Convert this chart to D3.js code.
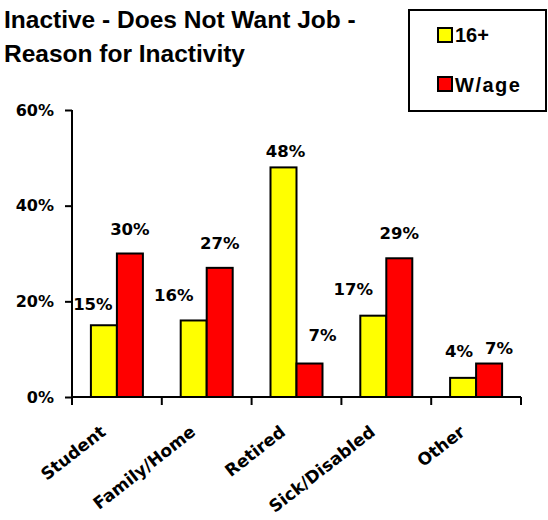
<!DOCTYPE html>
<html>
<head>
<meta charset="utf-8">
<script src="https://cdn.jsdelivr.net/npm/d3@7/dist/d3.min.js"></script>
<style>
  body { margin: 0; background: #fff; }
  svg { display: block; }
</style>
</head>
<body>
<script>
// reasons for inactivity, share of those not wanting a job
var categories = ["Student", "Family/Home", "Retired", "Sick/Disabled", "Other"];
var seriesNames = ["16+", "W/age"];
var values16 = [15, 16, 48, 17, 4];
var valuesWage = [30, 27, 7, 29, 7];
var yTicks = [0, 20, 40, 60];
var colors = ["#ffff00", "#ff0000"];

// hand nudges for the value labels [dx, dy], per series then category
var labelNudge = [
  [[-11, 4], [-20, 0], [2, 9], [-20, -2], [-4, -2]],
  [[0, 0], [0, 0], [13, -4], [0, 0], [10, 9]]
];

var width = 548, height = 520;
var svg = d3.select("body").append("svg").attr("width", width).attr("height", height);

var x = d3.scaleBand().domain(categories).range([72, 521]).padding(0);
var xs = d3.scaleBand().domain(seriesNames).range([0, x.bandwidth()]).paddingInner(0).paddingOuter(0.727);
var y = d3.scaleLinear().domain([0, 60]).range([397, 110]);

var data = categories.map(function(c, i) {
  return { cat: c, vals: [values16[i], valuesWage[i]] };
});

// title
var title = svg.append("text")
  .style("font", "bold 24.5px 'Liberation Sans', Arial, sans-serif")
  .style("fill", "#000");
title.append("tspan").attr("x", 4).attr("y", 28).text("Inactive - Does Not Want Job -");
title.append("tspan").attr("x", 4).attr("y", 62).text("Reason for Inactivity");

// bars
var groups = svg.selectAll(".grp")
  .data(data)
  .enter().append("g")
    .attr("class", "grp")
    .attr("transform", function(d) { return "translate(" + x(d.cat) + ",0)"; });

groups.selectAll("rect")
  .data(function(d, ci) { return d.vals.map(function(v, si) { return { v: v, s: si, c: ci }; }); })
  .enter().append("rect")
    .attr("x", function(d) { return xs(seriesNames[d.s]); })
    .attr("y", function(d) { return y(d.v); })
    .attr("width", xs.bandwidth())
    .attr("height", function(d) { return y(0) - y(d.v); })
    .attr("fill", function(d) { return colors[d.s]; })
    .attr("stroke", "#000")
    .attr("stroke-width", 2);

groups.selectAll(".val")
  .data(function(d, ci) { return d.vals.map(function(v, si) { return { v: v, s: si, c: ci }; }); })
  .enter().append("text")
    .attr("class", "val")
    .attr("x", function(d) { return xs(seriesNames[d.s]) + xs.bandwidth() / 2 + labelNudge[d.s][d.c][0]; })
    .attr("y", function(d) { return y(d.v) - 19 + labelNudge[d.s][d.c][1]; })
    .attr("text-anchor", "middle")
    .style("font", "bold 16.5px 'DejaVu Sans', Verdana, sans-serif")
    .text(function(d) { return d.v + "%"; });

// y axis
var yAxis = svg.append("g")
  .attr("transform", "translate(72,0)")
  .call(d3.axisLeft(y).tickValues(yTicks).tickSize(7).tickPadding(11).tickFormat(function(d) { return d + "%"; }));
yAxis.select(".domain").attr("stroke", "#000").attr("stroke-width", 2).attr("d", "M0,110V397");
yAxis.selectAll(".tick line").attr("stroke", "#000").attr("stroke-width", 2);
yAxis.selectAll(".tick text")
  .style("font", "bold 16px 'DejaVu Sans', Verdana, sans-serif")
  .attr("fill", "#000");

// x axis, ticks on the category boundaries
var xAxis = svg.append("g").attr("transform", "translate(0,397)");
xAxis.append("line")
  .attr("x1", 72).attr("x2", 521)
  .attr("stroke", "#000").attr("stroke-width", 2);
var bounds = categories.map(function(c) { return x(c); }).concat([x.range()[1]]);
xAxis.selectAll(".xt")
  .data(bounds)
  .enter().append("line")
    .attr("class", "xt")
    .attr("x1", function(d) { return d; }).attr("x2", function(d) { return d; })
    .attr("y1", 0).attr("y2", 8)
    .attr("stroke", "#000").attr("stroke-width", 2);

xAxis.selectAll(".cat")
  .data(categories)
  .enter().append("text")
    .attr("class", "cat")
    .attr("text-anchor", "end")
    .attr("transform", function(d) { return "translate(" + (x(d) + x.bandwidth() / 2 - 10) + ",37) rotate(-38)"; })
    .style("font", "bold 17px 'DejaVu Sans', Verdana, sans-serif")
    .text(function(d) { return d; });

// legend
var legend = svg.append("g");
legend.append("rect")
  .attr("x", 409).attr("y", 10).attr("width", 137).attr("height", 101)
  .attr("fill", "#fff").attr("stroke", "#000").attr("stroke-width", 2);
seriesNames.forEach(function(s, i) {
  legend.append("rect")
    .attr("x", 438).attr("y", 28 + i * 49).attr("width", 14).attr("height", 14)
    .attr("fill", colors[i]).attr("stroke", "#000").attr("stroke-width", 2);
  legend.append("text")
    .attr("x", 455).attr("y", 42 + i * 50)
    .style("font", "bold 20px 'Liberation Sans', Arial, sans-serif")
    .style("letter-spacing", i === 1 ? "1.5px" : "0px")
    .text(s);
});
</script>
</body>
</html>
